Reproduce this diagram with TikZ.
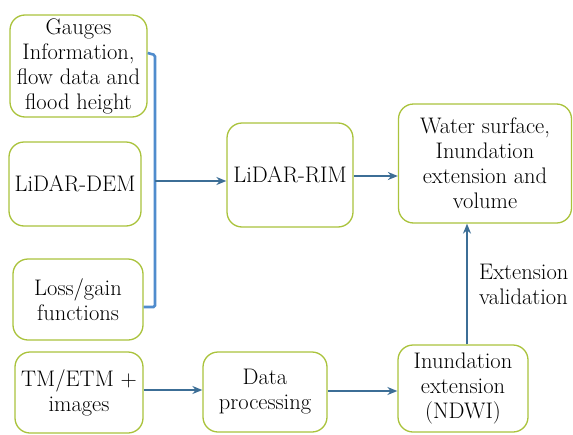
\documentclass[tikz,border=0pt]{standalone}
\usetikzlibrary{arrows.meta}
\definecolor{boxgreen}{RGB}{170,195,60}
\definecolor{arrowblue}{RGB}{60,110,150}
\definecolor{brblue}{RGB}{80,140,205}
\tikzset{
  flowbox/.style={draw=boxgreen, line width=1.3pt, rounded corners=15pt, fill=white,
    align=center, inner sep=0pt, font=\fontsize{22.5}{25}\selectfont},
  flowarrow/.style={draw=arrowblue, line width=1.3pt, -{Stealth[length=10pt,width=8pt]}},
  bracket/.style={draw=brblue, line width=2.6pt, rounded corners=1.5pt},
  lbl/.style={align=left, font=\fontsize{22.5}{25}\selectfont, inner sep=0pt}
}
\begin{document}
\begin{tikzpicture}[x=1pt,y=-1pt]
\useasboundingbox (0,0) rectangle (573,434);
\node[flowbox, minimum width=137pt, minimum height=102pt] (g) at (78.5,66) {Gauges\\Information,\\flow data and\\flood height};
\node[flowbox, minimum width=132pt, minimum height=84pt] (dem) at (75,184) {LiDAR-DEM};
\node[flowbox, minimum width=130pt, minimum height=81pt] (loss) at (78,299.5) {Loss/gain\\functions};
\node[flowbox, minimum width=128pt, minimum height=81pt] (tm) at (79,392.5) {TM/ETM +\\images};
\node[flowbox, minimum width=126pt, minimum height=104pt] (rim) at (290,175) {LiDAR-RIM};
\node[flowbox, minimum width=173pt, minimum height=119pt] (ws) at (485,163.5) {Water surface,\\Inundation\\extension and\\volume};
\node[flowbox, minimum width=124pt, minimum height=80pt] (dp) at (265,392) {Data\\processing};
\node[flowbox, minimum width=130pt, minimum height=87pt] (ie) at (463,388.5) {Inundation\\extension\\(NDWI)};
\node[lbl, anchor=west] (ev) at (479,284.5) {Extension\\validation};
% bracket
\coordinate (bt) at (155,55);
\coordinate (bm) at (155,181);
\coordinate (bb) at (155,307);
\draw[bracket] (g.east |- 0,53) -- (bt) -- (bb) -- (loss.east |- 0,307);
\draw[flowarrow] (bm) -- (rim.west |- bm);
\draw[flowarrow] (rim.east |- 0,176) -- (ws.west |- 0,176);
\draw[flowarrow] (tm.east |- 0,390) -- (dp.west |- 0,390);
\draw[flowarrow] (dp.east |- 0,391) -- (ie.west |- 0,391);
\draw[flowarrow] (467,0 |- ie.north) -- (467,0 |- ws.south);
\end{tikzpicture}
\end{document}
